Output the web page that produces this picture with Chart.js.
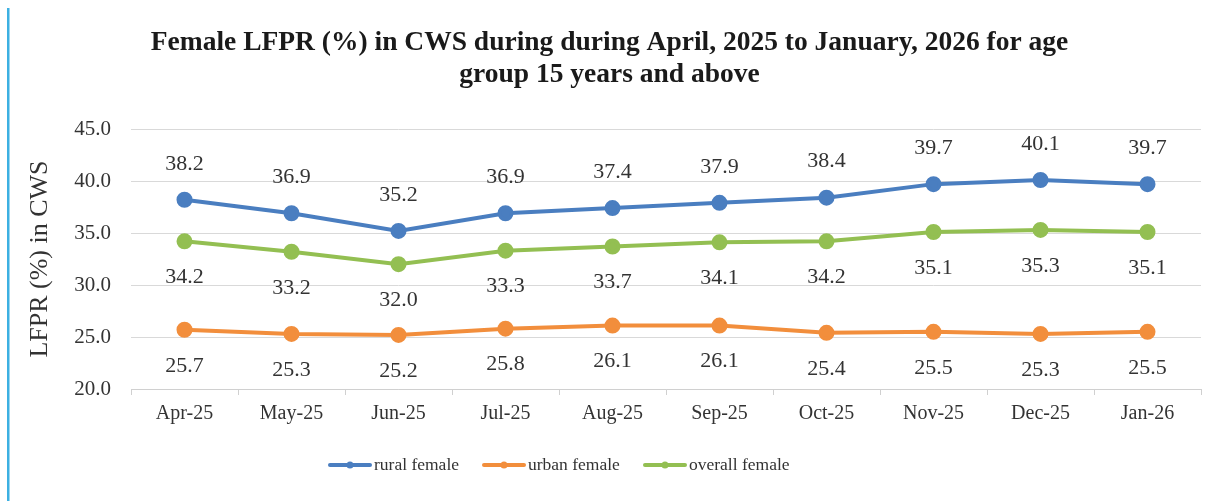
<!DOCTYPE html>
<html>
<head>
<meta charset="utf-8">
<script src="https://cdn.jsdelivr.net/npm/chart.js@4.4.1/dist/chart.umd.min.js"></script>
<style>
html,body{margin:0;padding:0;background:#fff;overflow:hidden;}
canvas{display:block;}
</style>
</head>
<body>
<canvas id="c" width="1212" height="501"></canvas>
<script>
const categories = ['Apr-25','May-25','Jun-25','Jul-25','Aug-25','Sep-25','Oct-25','Nov-25','Dec-25','Jan-26'];
const ruralFemale = [38.2,36.9,35.2,36.9,37.4,37.9,38.4,39.7,40.1,39.7];
const urbanFemale = [25.7,25.3,25.2,25.8,26.1,26.1,25.4,25.5,25.3,25.5];
const overallFemale = [34.2,33.2,32.0,33.3,33.7,34.1,34.2,35.1,35.3,35.1];
const seriesNames = ['rural female','urban female','overall female'];
const titleLines = ['Female LFPR (%) in CWS during during April, 2025 to January, 2026 for age','group 15 years and above'];
const yAxisTitle = 'LFPR (%) in CWS';

const colors = ['#4a7ec0','#f28e3c','#93bf52'];
const labelPos = ['above','below','below'];
const SERIF = '"Liberation Serif","Times New Roman",serif';

const dataLabelPlugin = {
  id: 'dataLabels',
  afterDatasetsDraw(chart) {
    const ctx = chart.ctx;
    ctx.save();
    ctx.font = '22px ' + SERIF;
    ctx.fillStyle = '#333';
    ctx.textAlign = 'center';
    ctx.textBaseline = 'middle';
    chart.data.datasets.forEach((ds, i) => {
      const meta = chart.getDatasetMeta(i);
      meta.data.forEach((pt, j) => {
        const dy = labelPos[i] === 'above' ? -36 : 36;
        ctx.fillText(ds.data[j].toFixed(1), pt.x, pt.y + dy);
      });
    });
    ctx.restore();
  }
};

const decorPlugin = {
  id: 'decor',
  beforeDraw(chart) {
    const ctx = chart.ctx;
    ctx.save();
    ctx.fillStyle = '#fff';
    ctx.fillRect(0,0,chart.width,chart.height);
    ctx.fillStyle = '#3cb0e2';
    ctx.fillRect(7,8,2.5,chart.height-8);
    ctx.restore();
  },
  afterDraw(chart) {
    const ctx = chart.ctx;
    ctx.save();
    const y = 465;
    const items = [{x:328},{x:482},{x:643}];
    ctx.font = '17.5px ' + SERIF;
    ctx.textBaseline = 'middle';
    ctx.textAlign = 'left';
    items.forEach((it, i) => {
      ctx.strokeStyle = colors[i];
      ctx.lineWidth = 4;
      ctx.lineCap = 'round';
      ctx.beginPath();
      ctx.moveTo(it.x+2, y);
      ctx.lineTo(it.x+42, y);
      ctx.stroke();
      ctx.fillStyle = colors[i];
      ctx.beginPath();
      ctx.arc(it.x+22, y, 3.5, 0, Math.PI*2);
      ctx.fill();
      ctx.fillStyle = '#333';
      ctx.fillText(seriesNames[i], it.x+46, y);
    });
    ctx.restore();
  }
};

const datasets = [ruralFemale, urbanFemale, overallFemale].map((d, i) => ({
  label: seriesNames[i],
  data: d,
  borderColor: colors[i],
  backgroundColor: colors[i],
  borderWidth: 4,
  pointRadius: 6,
  pointHoverRadius: 6,
  pointBackgroundColor: colors[i],
  pointBorderColor: colors[i],
  tension: 0
}));

new Chart(document.getElementById('c'), {
  type: 'line',
  data: { labels: categories, datasets },
  plugins: [decorPlugin, dataLabelPlugin],
  options: {
    responsive: false,
    animation: false,
    events: [],
    layout: { padding: { left: 18, right: 11, top: 0, bottom: 67 } },
    plugins: {
      legend: { display: false },
      tooltip: { enabled: false },
      title: {
        display: true,
        text: titleLines,
        color: '#1a1a1a',
        font: { family: SERIF, size: 27.5, weight: 'bold', lineHeight: 1.164 },
        padding: { top: 27, bottom: 38 }
      }
    },
    scales: {
      x: {
        offset: true,
        grid: { offset: true, drawOnChartArea: false, drawTicks: true, tickLength: 6, color: '#d0d0d0' },
        border: { display: true, color: '#d0d0d0', width: 1 },
        ticks: { color: '#333', font: { family: SERIF, size: 20 }, padding: 7, maxRotation: 0 },
        afterFit(s) { s.height = 45; }
      },
      y: {
        min: 20, max: 45,
        ticks: { stepSize: 5, color: '#333', font: { family: SERIF, size: 21 }, padding: 20,
                 callback: v => v.toFixed(1) },
        grid: { color: '#d9d9d9', drawTicks: false },
        border: { display: false },
        title: { display: true, text: yAxisTitle, color: '#333', font: { family: SERIF, size: 26 }, padding: { top: 7, bottom: 0 } },
        afterFit(s) { s.width = 113; }
      }
    }
  }
});
</script>
</body>
</html>
